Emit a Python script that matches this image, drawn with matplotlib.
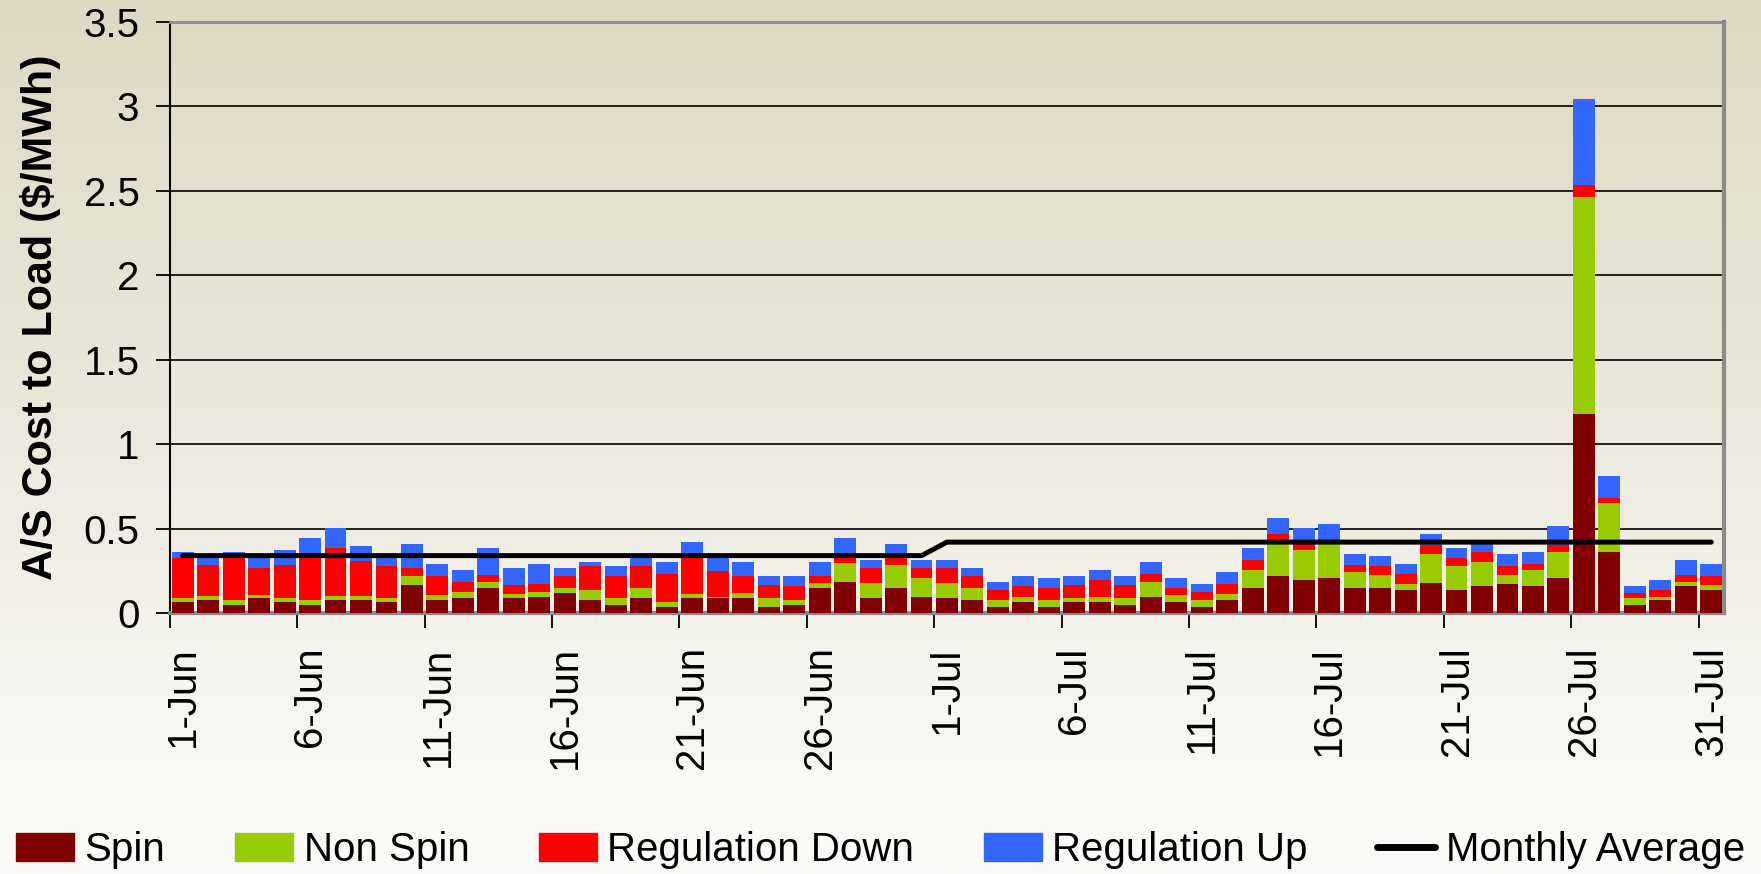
import numpy as np
import matplotlib
matplotlib.use('Agg')
import matplotlib.pyplot as plt
from matplotlib.patches import Patch
from matplotlib.lines import Line2D

plt.rcParams['font.family'] = ['Liberation Sans', 'DejaVu Sans']

# one bar per day, 1-Jun .. 31-Jul
days = list(range(61))
spin = [0.067, 0.079, 0.049, 0.091, 0.067, 0.049, 0.079, 0.079, 0.067, 0.168,
        0.079, 0.091, 0.150, 0.091, 0.097, 0.121, 0.079, 0.049, 0.091, 0.038,
        0.091, 0.091, 0.091, 0.038, 0.049, 0.150, 0.186, 0.091, 0.150, 0.097,
        0.091, 0.079, 0.038, 0.067, 0.038, 0.067, 0.067, 0.049, 0.097, 0.067,
        0.038, 0.079, 0.150, 0.221, 0.198, 0.209, 0.150, 0.150, 0.138, 0.180,
        0.138, 0.162, 0.174, 0.162, 0.210, 1.178, 0.364, 0.049, 0.079, 0.162,
        0.138]
non_spin = [0.024, 0.024, 0.030, 0.018, 0.024, 0.030, 0.024, 0.024, 0.024, 0.053,
            0.030, 0.035, 0.036, 0.024, 0.029, 0.029, 0.059, 0.042, 0.059, 0.029,
            0.024, 0.006, 0.030, 0.053, 0.030, 0.030, 0.112, 0.089, 0.137, 0.112,
            0.089, 0.071, 0.041, 0.030, 0.041, 0.024, 0.030, 0.042, 0.089, 0.042,
            0.041, 0.036, 0.107, 0.209, 0.177, 0.221, 0.095, 0.077, 0.036, 0.172,
            0.143, 0.142, 0.053, 0.095, 0.149, 1.288, 0.286, 0.042, 0.018, 0.024,
            0.030]
reg_down = [0.237, 0.184, 0.276, 0.160, 0.196, 0.266, 0.284, 0.207, 0.190, 0.048,
            0.112, 0.060, 0.041, 0.053, 0.048, 0.071, 0.143, 0.130, 0.131, 0.166,
            0.215, 0.154, 0.100, 0.077, 0.083, 0.041, 0.037, 0.089, 0.043, 0.060,
            0.089, 0.071, 0.059, 0.065, 0.071, 0.077, 0.101, 0.077, 0.047, 0.041,
            0.047, 0.059, 0.059, 0.040, 0.040, 0.010, 0.042, 0.054, 0.059, 0.048,
            0.047, 0.060, 0.054, 0.035, 0.046, 0.070, 0.030, 0.030, 0.041, 0.041,
            0.053]
reg_up = [0.036, 0.058, 0.009, 0.066, 0.088, 0.102, 0.119, 0.089, 0.054, 0.142,
          0.071, 0.071, 0.160, 0.101, 0.118, 0.048, 0.023, 0.060, 0.059, 0.071,
          0.093, 0.079, 0.083, 0.053, 0.059, 0.083, 0.112, 0.047, 0.081, 0.047,
          0.047, 0.048, 0.048, 0.059, 0.059, 0.053, 0.059, 0.053, 0.071, 0.059,
          0.048, 0.071, 0.071, 0.095, 0.091, 0.090, 0.065, 0.059, 0.059, 0.070,
          0.059, 0.046, 0.071, 0.072, 0.112, 0.511, 0.129, 0.041, 0.060, 0.089,
          0.071]
monthly_avg = [0.34] * 30 + [0.42] * 31

tick_pos = list(range(0, 61, 5))
tick_labels = ['1-Jun', '6-Jun', '11-Jun', '16-Jun', '21-Jun', '26-Jun', '1-Jul',
               '6-Jul', '11-Jul', '16-Jul', '21-Jul', '26-Jul', '31-Jul']

c_spin = '#800000'
c_non = '#99CC00'
c_down = '#FF0000'
c_up = '#3366FF'

fig = plt.figure(figsize=(17.61, 8.74), dpi=100)

# gradient background
bg = fig.add_axes([0, 0, 1, 1], zorder=-10)
stops = np.array([[221, 217, 194], [236, 233, 220], [245, 244, 238], [251, 251, 249]]) / 255
pos = [0, 0.5, 0.75, 1.0]
yy = np.linspace(0, 1, 300)
grad = np.stack([np.interp(yy, pos, stops[:, k]) for k in range(3)], axis=1)
bg.imshow(grad[:, None, :], aspect='auto', extent=[0, 1, 0, 1], origin='upper')
bg.axis('off')

ax = fig.add_axes([0.0965, 0.2986, 0.8825, 0.6762])
ax.set_facecolor('none')

w = 0.86
b1 = np.array(spin)
b2 = b1 + np.array(non_spin)
b3 = b2 + np.array(reg_down)
ax.bar(days, spin, w, color=c_spin, zorder=3)
ax.bar(days, non_spin, w, bottom=b1, color=c_non, zorder=3)
ax.bar(days, reg_down, w, bottom=b2, color=c_down, zorder=3)
ax.bar(days, reg_up, w, bottom=b3, color=c_up, zorder=3)
ax.plot(days, monthly_avg, color='black', lw=3.6, solid_capstyle='round', zorder=4)

ax.set_xlim(-0.5, 60.5)
ax.set_ylim(0, 3.5)
ax.set_yticks(np.arange(0, 3.51, 0.5))
ax.set_yticklabels(['0', '0.5', '1', '1.5', '2', '2.5', '3', '3.5'])
ax.yaxis.grid(True, color='#111111', lw=1.3, zorder=1)
ax.set_axisbelow(True)

ax.set_xticks(tick_pos)
ax.set_xticklabels(tick_labels, rotation=90, va='top', ha='center')
ax.set_xticks([p - 0.5 for p in tick_pos], minor=True)
ax.tick_params(axis='x', which='major', length=0, pad=24, labelsize=29)
ax.tick_params(axis='x', which='minor', length=11, width=1.3, color='black')
ax.tick_params(axis='y', length=10, width=1.3, pad=12, labelsize=29)

ax.spines['left'].set_color('black')
ax.spines['left'].set_linewidth(1.5)
for s in ['top', 'right', 'bottom']:
    ax.spines[s].set_color('#8a8a8a')
ax.spines['top'].set_linewidth(2)
ax.spines['right'].set_linewidth(3)
ax.spines['bottom'].set_linewidth(3)

ax.set_ylabel('A/S Cost to Load ($/MWh)', fontsize=31, fontweight='bold', labelpad=16)

handles = [Patch(color=c_spin), Patch(color=c_non), Patch(color=c_down), Patch(color=c_up),
           Line2D([], [], color='black', lw=5, solid_capstyle='round')]
labels = ['Spin', 'Non Spin', 'Regulation Down', 'Regulation Up', 'Monthly Average']
fig.legend(handles, labels, loc='center', bbox_to_anchor=(0.5, 0.027), ncol=5,
           frameon=False, fontsize=29, handlelength=1.44, handleheight=0.7,
           handletextpad=0.27, columnspacing=1.72, borderpad=0, borderaxespad=0)

fig.savefig('out.png', dpi=100)
